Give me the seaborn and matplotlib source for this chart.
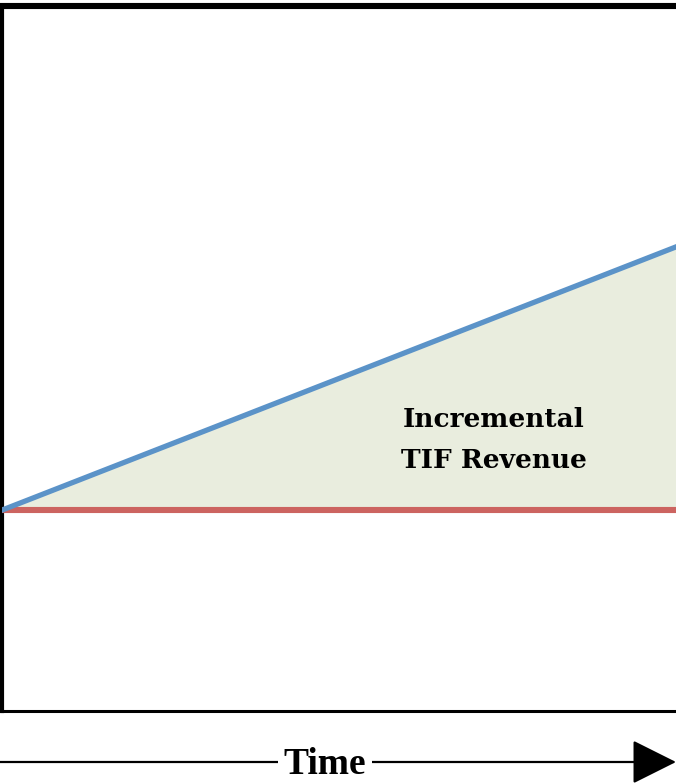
import matplotlib
matplotlib.use("Agg")
from matplotlib import pyplot as plt
import seaborn as sns
import pandas as pd

# chart values
time = [0, 10]
base_revenue = [0.0, 0.0]
tif_revenue = [0.0, 2.65]
label_text = "Incremental\nTIF Revenue"
axis_label = "Time"

df = pd.DataFrame({"time": time, "base": base_revenue, "tif": tif_revenue})

sns.set_theme(style="white")
plt.rcParams['font.family'] = ['DejaVu Serif']
plt.rcParams['text.color'] = 'black'

fig = plt.figure(figsize=(6.76, 7.83), dpi=100)
ax = fig.add_axes([2 / 676, 0.092, 678 / 676, 0.8997])

# shaded area between base and tif lines
ax.fill_between(df["time"], df["base"], df["tif"], color="#e9edde", lw=0, zorder=1)
sns.lineplot(data=df, x="time", y="base", color="#cc6460", lw=4.4, ax=ax, zorder=3)
sns.lineplot(data=df, x="time", y="tif", color="#5b93c8", lw=3.8, ax=ax, zorder=4)

ax.set_xlim(0, 10)
ax.set_ylim(-2.01, 5.04)
ax.set_xticks([])
ax.set_yticks([])
ax.set(xlabel=None, ylabel=None)

for side, w in [("top", 4.4), ("left", 3.0), ("bottom", 2.2), ("right", 3.0)]:
	ax.spines[side].set_visible(True)
	ax.spines[side].set_color("black")
	ax.spines[side].set_linewidth(w)

ax.text(7.25, 0.70, label_text, ha="center", va="center", fontsize=19,
		fontweight="bold", family="DejaVu Serif", linespacing=1.8,
		color="black", zorder=5)

# time arrow below the box
y_arrow = (783 - 762) / 783
ax.annotate("", xy=(1.0, y_arrow), xytext=(0.0, y_arrow),
			xycoords="figure fraction", textcoords="figure fraction",
			arrowprops=dict(arrowstyle="-|>,head_length=1.0,head_width=0.5",
							mutation_scale=28, lw=1.6, color="black",
							shrinkA=0, shrinkB=0))
fig.text(325 / 676, (783 - 765) / 783, axis_label, ha="center", va="center",
		 fontsize=27, fontweight="bold", family="Liberation Serif", color="black",
		 bbox=dict(facecolor="white", edgecolor="none", pad=4))

plt.savefig("out.png", dpi=100)
